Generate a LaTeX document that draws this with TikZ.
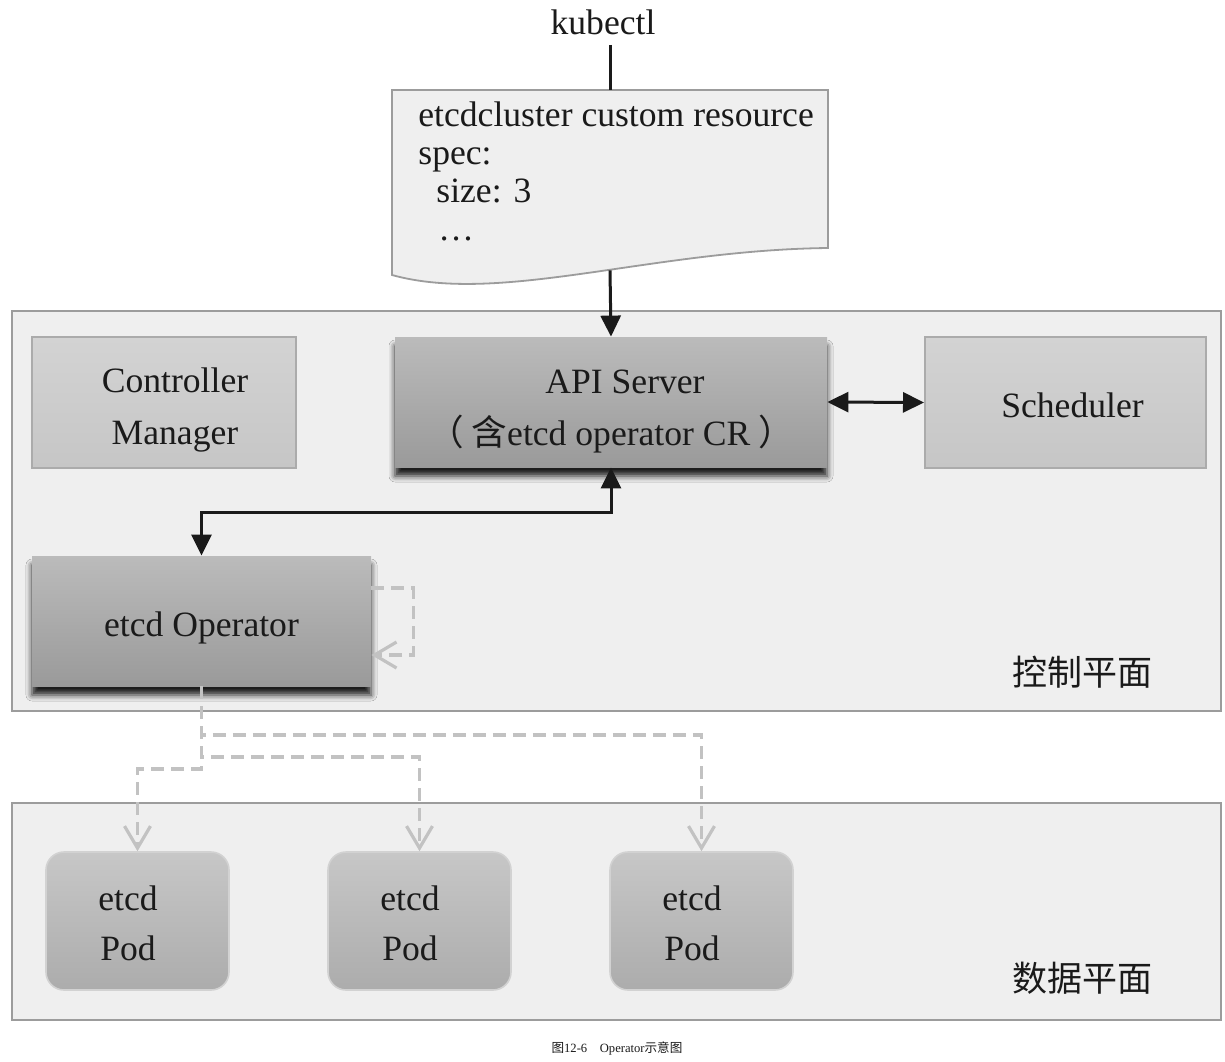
\documentclass[tikz,border=0pt]{standalone}
\usepackage{fontspec}
\setmainfont{Liberation Serif}
\newfontfamily\cjk{Noto Sans CJK SC}
\usetikzlibrary{arrows.meta,shadows.blur,calc}
\definecolor{txt}{HTML}{1A1A1A}
\definecolor{panel}{HTML}{EFEFEF}
\definecolor{panelline}{HTML}{9C9C9C}
\definecolor{lightbox}{HTML}{D3D3D3}
\definecolor{lightboxb}{HTML}{C6C6C6}
\definecolor{lightline}{HTML}{ABABAB}
\definecolor{darktop}{HTML}{BBBBBB}
\definecolor{darkbot}{HTML}{9A9A9A}
\definecolor{podtop}{HTML}{C7C7C7}
\definecolor{podbot}{HTML}{ACACAC}
\definecolor{podline}{HTML}{D2D2D2}
\definecolor{dashc}{HTML}{C2C2C2}
\definecolor{arrc}{HTML}{1A1A1A}
\begin{document}
\begin{tikzpicture}[x=0.5pt,y=-0.5pt,
  every node/.style={text=txt, font=\fontsize{17.8}{26}\selectfont},
  panelbox/.style={draw=panelline, line width=1pt, fill=panel, inner sep=0pt, minimum width=604.5pt},
  lightnode/.style={draw=lightline, line width=1pt, top color=lightbox, bottom color=lightboxb, inner sep=0pt, minimum width=#1, minimum height=65.5pt, align=center},
  darknode/.style={top color=darktop, bottom color=darkbot, inner sep=0pt, minimum width=#1, minimum height=65pt, align=center,
     blur shadow={shadow xshift=0pt, shadow yshift=-4.5pt, shadow blur radius=3pt, shadow opacity=88}},
  podnode/.style={draw=podline, line width=0.8pt, top color=podtop, bottom color=podbot, rounded corners=9pt, inner sep=0pt, minimum width=91.5pt, minimum height=69pt, align=center, font=\fontsize{17.8}{25}\selectfont},
  plainline/.style={draw=arrc, line width=1.5pt},
  solidarrow/.style={draw=arrc, line width=1.5pt, -{Triangle[length=10.5pt,width=10pt]}},
  biarrow/.style={draw=arrc, line width=1.5pt, {Triangle[length=10.5pt,width=10pt]}-{Triangle[length=10.5pt,width=10pt]}},
  dasharrow/.style={draw=dashc, line width=1.6pt, dash pattern=on 6.5pt off 3.5pt, -{Straight Barb[length=11pt,width=13pt]}},
  planelabel/.style={font=\cjk\fontsize{17.5}{20}\selectfont},
]
\fill[white] (0,0) rectangle (1225,1061);
\useasboundingbox (0,0) rectangle (1225,1061);

% panels
\node[panelbox, minimum height=200pt] (cp) at (616.5,511) {};
\node[panelbox, minimum height=108.5pt] (dp) at (616.5,911.5) {};
\node[planelabel] (cplabel) at (1082,672) {控制平面};
\node[planelabel] (dplabel) at (1082,978) {数据平面};

% kubectl and document
\node[inner sep=5pt] (kubectl) at (603,22) {kubectl};
\node[minimum width=218pt, minimum height=90pt, inner sep=0pt] (doc) at (610,180) {};
\draw[fill=panel, draw=panelline, line width=0.9pt]
  (392,90) -- (828,90) -- (828,248) .. controls (650,250) and (500,305) .. (392,275) -- cycle;
\node[anchor=north west, inner sep=0pt, align=left, font=\fontsize{17.8}{19}\selectfont] (doctxt) at (418,101)
  {etcdcluster custom resource\\spec:\\\hspace*{9pt}size: 3\\\hspace*{10pt}…};

% control plane components
\node[lightnode=132pt] (cm) at (164,402.5) {\rule{0pt}{20pt}\hspace*{11pt}Controller\\\hspace*{11pt}Manager};
\node[darknode=216pt] (api) at (611,402) {\rule{0pt}{21.5pt}\hspace*{14pt}API Server\\{\cjk （}\hspace{4pt}{\cjk 含}etcd operator CR\hspace{4pt}{\cjk ）}};
\node[lightnode=140.5pt] (sched) at (1065.5,402.5) {\rule{0pt}{15pt}\hspace*{7pt}Scheduler};
\node[darknode=169.5pt] (op) at (201.5,621) {\rule{0pt}{19pt}etcd Operator};

% pods
\node[podnode] (pod1) at (137.5,921) {\rule{0pt}{15pt}etcd\hspace*{9.5pt}\\Pod\hspace*{9.5pt}};
\node[podnode] (pod2) at (419.5,921) {\rule{0pt}{15pt}etcd\hspace*{9.5pt}\\Pod\hspace*{9.5pt}};
\node[podnode] (pod3) at (701.5,921) {\rule{0pt}{15pt}etcd\hspace*{9.5pt}\\Pod\hspace*{9.5pt}};

% caption
\node[font=\fontsize{6.3}{7}\selectfont] (caption) at (617,1048) {{\cjk 图}12-6\quad Operator{\cjk 示意图}};

% connectors
\draw[plainline] (kubectl.south -| doc.north) -- (doc.north);
\draw[solidarrow] (doc.south) -- (api.north);
\draw[biarrow] (api.east) -- (sched.west);
\draw[biarrow] (api.south) -- ++(0,45) -| (op.north);

\draw[dasharrow] ($(op.east)+(0,-33)$) -- ++(42,0) -- ++(0,67) -- ($(op.east)+(0,34)$);

\coordinate (b1) at (0,735);
\coordinate (b2) at (0,757);
\coordinate (b3) at (0,769);
\draw[dasharrow] (op.south) |- (b1 -| pod3.north) -- (pod3.north);
\draw[dasharrow] (op.south) |- (b2 -| pod2.north) -- (pod2.north);
\draw[dasharrow] (op.south) |- (b3 -| pod1.north) -- (pod1.north);
\end{tikzpicture}
\end{document}
